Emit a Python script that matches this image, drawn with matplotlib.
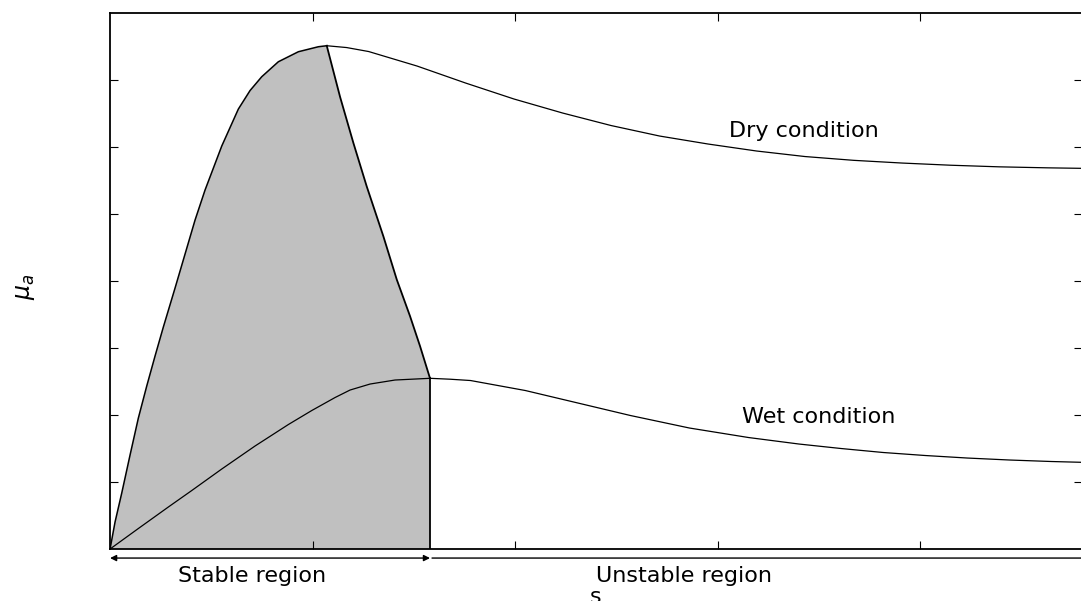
import matplotlib
matplotlib.use("Agg")
import matplotlib.pyplot as plt

# slip s vs adhesion coefficient mu_a
dry_rise_s = [0.0, 0.00247, 0.00578, 0.00988, 0.01398, 0.01812, 0.02222, 0.02632,
              0.03210, 0.03704, 0.04198, 0.04691, 0.05516, 0.06336, 0.06914,
              0.07491, 0.08311, 0.09299, 0.10286, 0.10701]
dry_rise_mu = [0.0, 0.0806, 0.1672, 0.2806, 0.3910, 0.4866, 0.5761, 0.6627,
               0.7791, 0.8806, 0.9821, 1.0716, 1.2030, 1.3134, 1.3687,
               1.4099, 1.4546, 1.4845, 1.4994, 1.5024]

dry_fall_s = [0.10701, 0.1168, 0.1277, 0.1516, 0.1756, 0.1995, 0.2235, 0.2474, 0.2714,
              0.2953, 0.3193, 0.3432, 0.3672, 0.3911, 0.4151, 0.4390, 0.4630, 0.4800]
dry_fall_mu = [1.5024, 1.4970, 1.4851, 1.4418, 1.3910, 1.3433, 1.3015, 1.2642, 1.2328,
               1.2090, 1.1881, 1.1716, 1.1603, 1.1522, 1.1457, 1.1409, 1.1379, 1.1364]

wet_s = [0.0, 0.01398, 0.02879, 0.04035, 0.05516, 0.07160, 0.08805, 0.09960, 0.11111,
         0.11852, 0.12840, 0.14074, 0.158, 0.1679, 0.1780, 0.2051, 0.2321, 0.2570,
         0.2861, 0.3153, 0.3402, 0.3610, 0.3818, 0.4026, 0.4233, 0.4441, 0.4649, 0.4800]
wet_mu = [0.0, 0.0612, 0.1254, 0.1746, 0.2388, 0.3075, 0.3716, 0.4134, 0.4522,
          0.4746, 0.4925, 0.5045, 0.5096, 0.5069, 0.5030, 0.4731, 0.4343, 0.3985,
          0.3612, 0.3328, 0.3134, 0.3000, 0.2881, 0.2791, 0.2716, 0.2657, 0.2612, 0.2588]

# edge of the stable region (dry peak down to wet peak)
edge_s = [0.10701, 0.11358, 0.12015, 0.12672, 0.13496, 0.14158, 0.14815, 0.15309, 0.158]
edge_mu = [1.5024, 1.3499, 1.2125, 1.0830, 0.9337, 0.8045, 0.6949, 0.6054, 0.5096]
s_crit = 0.158

fig = plt.figure(figsize=(10.81, 6.01), dpi=100)
ax = fig.add_axes([0.1018, 0.0865, 0.8992, 0.8918])

# shaded stable area
poly_s = dry_rise_s + edge_s[1:] + [s_crit]
poly_mu = dry_rise_mu + edge_mu[1:] + [0.0]
ax.fill(poly_s, poly_mu, color="#c0c0c0", lw=0)

ax.plot(dry_rise_s, dry_rise_mu, color="black", lw=1.1)
ax.plot(dry_fall_s, dry_fall_mu, color="black", lw=0.9)
ax.plot(wet_s, wet_mu, color="black", lw=0.9)
ax.plot(edge_s, edge_mu, color="black", lw=1.3)
ax.plot([s_crit, s_crit], [0, edge_mu[-1]], color="black", lw=1.3)

ax.set_xlim(0, 0.48)
ax.set_ylim(0, 1.6)
ax.set_xticks([0.1, 0.2, 0.3, 0.4])
ax.set_yticks([0.2, 0.4, 0.6, 0.8, 1.0, 1.2, 1.4])
ax.set_xticklabels([])
ax.set_yticklabels([])
ax.tick_params(direction="in", length=5.8, width=0.8, top=True, right=True)
for sp in ax.spines.values():
    sp.set_linewidth(1.3)

font = dict(family="DejaVu Sans", fontsize=16)
ax.text(0.3425, 1.2299, "Dry condition", ha="center", va="baseline", **font)
ax.text(0.3501, 0.376, "Wet condition", ha="center", va="baseline", **font)

# region arrows under the axis
arr_y = -0.027
ax.annotate("", xy=(0, arr_y), xytext=(s_crit, arr_y), annotation_clip=False,
            arrowprops=dict(arrowstyle="<|-|>", color="black", lw=1.0,
                            mutation_scale=9, shrinkA=0, shrinkB=0))
ax.annotate("", xy=(s_crit + 0.001, arr_y), xytext=(0.49, arr_y), annotation_clip=False,
            arrowprops=dict(arrowstyle="<|-", color="black", lw=1.0,
                            mutation_scale=9, shrinkA=0, shrinkB=0))
ax.text(0.0701, -0.0985, "Stable region", ha="center", va="baseline", clip_on=False, **font)
ax.text(0.2835, -0.0985, "Unstable region", ha="center", va="baseline", clip_on=False, **font)

ax.set_xlabel("s", **font)
ax.xaxis.set_label_coords(0.5, -0.1007)
ax.xaxis.label.set_va("baseline")
ax.set_ylabel(r"$\mu_a$", fontsize=17)
ax.yaxis.set_label_coords(-0.075, 0.49)

fig.savefig("out.png", dpi=100)
